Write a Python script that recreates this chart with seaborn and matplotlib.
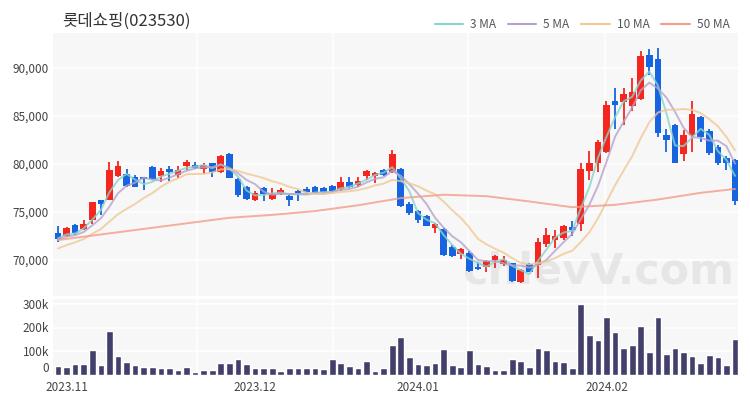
import numpy as np
import pandas as pd
import matplotlib
matplotlib.use("Agg")
import matplotlib.pyplot as plt
from matplotlib.lines import Line2D
from matplotlib.ticker import FuncFormatter
import seaborn as sns

sns.set_theme(style="white")
plt.rcParams["font.family"] = ["Noto Sans CJK KR", "DejaVu Sans"]

# ---------------- data ----------------
title = "롯데쇼핑(023530)"
month_labels = ["2023.11", "2023.12", "2024.01", "2024.02"]
month_pos = [1, 23, 42, 64]

opens = [72800, 72500, 73600, 73200, 74200, 76200, 76300, 78700, 79000, 78600,
         78600, 79700, 78800, 79500, 78900, 79800, 79900, 79500, 80100, 79200,
         81000, 78400, 77600, 76300, 77500, 76400, 76900, 76700, 77200, 77400,
         77600, 77500, 77700, 77400, 78100, 77800, 78700, 78700, 79400, 79200,
         79500, 75800, 75100, 74600, 73300, 73200, 71400, 70600, 70700, 69300,
         69300, 70000, 69600, 69700, 67700, 69600, 69500, 71700, 72100, 72300,
         73400, 73800, 79300, 80100, 81300, 86600, 86500, 86000, 86800, 91400,
         90900, 83000, 84100, 81000, 83000, 84900, 83400, 81800, 80600, 80400]
highs = [73500, 73400, 73800, 74200, 76000, 76300, 80200, 80300, 79500, 78900,
         78600, 79800, 79600, 79800, 79800, 80400, 80200, 80100, 80100, 80900,
         81100, 78500, 77700, 77200, 77600, 77500, 77500, 76900, 77300, 77600,
         77700, 77600, 77800, 78600, 78600, 78600, 79400, 79200, 79500, 81500,
         79600, 76000, 75200, 74700, 73900, 73300, 71600, 71200, 70900, 69800,
         70000, 70500, 70400, 69700, 69100, 69700, 72300, 73300, 73100, 73600,
         74100, 80100, 81400, 82500, 86600, 87900, 87900, 89000, 91800, 92000,
         92100, 83600, 84200, 83500, 86600, 85000, 83700, 82000, 80800, 80500]
lows = [71900, 72400, 72600, 73100, 73800, 74700, 76300, 78600, 77600, 77600,
        77300, 78300, 78100, 78200, 78500, 79400, 79500, 79000, 78600, 79100,
        78500, 76600, 76300, 76100, 76100, 76300, 76800, 75600, 76100, 76900,
        76900, 77000, 77000, 77200, 77500, 77600, 78300, 78000, 78800, 79100,
        75500, 74700, 73900, 73500, 72800, 70400, 70300, 70100, 68800, 69000,
        68800, 69200, 69400, 67700, 67600, 68700, 68100, 71400, 71200, 72100,
        72500, 73000, 78300, 79200, 81200, 83700, 84100, 85500, 86700, 89300,
        82800, 81300, 80100, 80300, 81300, 82300, 80900, 79900, 79400, 75700]
closes = [72200, 73300, 72800, 73800, 76000, 75800, 79400, 79800, 77700, 77600,
          78400, 78400, 79300, 79200, 79400, 80200, 79600, 79900, 79200, 80800,
          78500, 76800, 76400, 77000, 76900, 76900, 77300, 76300, 77000, 77100,
          77000, 77100, 77200, 78100, 77600, 78200, 79300, 79100, 78900, 81000,
          75600, 74900, 74200, 73500, 73800, 70500, 70400, 71100, 68900, 69100,
          69900, 70400, 70000, 67800, 69000, 68800, 71900, 72600, 72500, 73500,
          73100, 79500, 80100, 82300, 86100, 86200, 87300, 87500, 91300, 90100,
          83200, 82500, 80100, 83000, 85200, 82800, 81100, 80100, 80100, 76100]
volumes = [37, 32, 46, 45, 107, 42, 185, 79, 54, 44,
           32, 32, 31, 30, 22, 35, 11, 22, 20, 52,
           52, 66, 48, 31, 31, 30, 18, 30, 28, 28,
           28, 27, 66, 52, 37, 30, 60, 18, 28, 128,
           160, 77, 46, 44, 49, 110, 42, 35, 106, 45,
           37, 21, 21, 68, 58, 32, 114, 106, 61, 54,
           28, 297, 170, 148, 246, 179, 114, 128, 207, 96,
           244, 89, 114, 97, 79, 52, 85, 75, 44, 152]  # thousands of shares
prior_closes = [69800, 70000, 70300, 70500, 70900, 71600, 72150, 72100, 72500]
ma50_idx = [0, 5, 10, 15, 20, 25, 30, 35, 40, 45, 50, 55, 60, 65, 70, 75, 79]
ma50_val = [72080, 72660, 73240, 73820, 74400, 74700, 75100, 75700, 76450,
            76800, 76650, 76100, 75500, 75750, 76300, 77000, 77400]
watermark = "chlevV.com"

# ---------------- derived ----------------
o = np.array(opens, float); h = np.array(highs, float)
l = np.array(lows, float); c = np.array(closes, float)
idx = np.arange(len(c))
up = c >= o
RED, BLUE = "#f5261f", "#1664e0"
cols = np.where(up, RED, BLUE)

full = pd.Series(prior_closes + closes, dtype=float)
npri = len(prior_closes)
ma = {}
for n in (3, 5, 10):
    ma[f"{n} MA"] = full.rolling(n).mean().to_numpy()[npri:]

ma_df = pd.concat([
    pd.DataFrame({"idx": idx, "val": ma["3 MA"], "ma": "3 MA"}),
    pd.DataFrame({"idx": idx, "val": ma["5 MA"], "ma": "5 MA"}),
    pd.DataFrame({"idx": idx, "val": ma["10 MA"], "ma": "10 MA"}),
    pd.DataFrame({"idx": ma50_idx, "val": ma50_val, "ma": "50 MA"}),
], ignore_index=True)
ma_colors = {"3 MA": "#86d5cc", "5 MA": "#b7a2cc", "10 MA": "#f0c994", "50 MA": "#f29c8a"}

vol_df = pd.DataFrame({"idx": idx, "vol": np.array(volumes) * 1000})

# ---------------- figure ----------------
fig = plt.figure(figsize=(7.5, 4), dpi=100)
L, W = 53.3 / 750, (738 - 53.3) / 750
ax = fig.add_axes([L, 1 - 296 / 400, W, (296 - 33) / 400])
axv = fig.add_axes([L, 1 - 375 / 400, W, (375 - 299) / 400])

bg = "#f7f7f7"
for a in (ax, axv):
    a.set_facecolor(bg)
    for s in a.spines.values():
        s.set_visible(False)

xlim = (-0.55, 79.35)

# price panel
for yv in range(70000, 90001, 5000):
    ax.axhline(yv, color="white", lw=1.1, zorder=0.5)
for xv in (16.2, 32.1, 47.8, 63.8):
    ax.axvline(xv, color="white", lw=1.1, zorder=0.5)
    axv.axvline(xv, color="white", lw=1.1, zorder=0.5)

ax.text(0.795, 0.095, watermark, transform=ax.transAxes, ha="center", va="center",
        fontsize=31, color="#dcdcdc", alpha=0.6, fontweight="bold",
        family=["DejaVu Sans"], zorder=1)

ax.vlines(idx, l, h, colors=cols, lw=1.3, zorder=3)
body_h = np.maximum(np.abs(c - o), 80)
ax.bar(idx, body_h, bottom=np.minimum(o, c), width=0.78, color=cols, zorder=3, linewidth=0)

sns.lineplot(data=ma_df, x="idx", y="val", hue="ma", palette=ma_colors, ax=ax,
             legend=False, lw=1.4, alpha=0.8, zorder=4)

ax.set_xlim(*xlim)
ax.set_ylim(66250, 93650)
ax.set_yticks(range(70000, 90001, 5000))
ax.yaxis.set_major_formatter(FuncFormatter(lambda v, p: f"{int(v):,}"))
ax.set_xticks([])
ax.set_xlabel(""); ax.set_ylabel("")
ax.tick_params(axis="y", length=0, pad=3, labelsize=8.5, labelcolor="#444444")

# volume panel
for yv in (100000, 200000, 300000):
    axv.axhline(yv, color="white", lw=1.1, zorder=0.5)
sns.barplot(data=vol_df, x="idx", y="vol", native_scale=True, color="#42406a",
            saturation=1, width=0.78, errorbar=None, ax=axv, zorder=3)
axv.set_xlim(*xlim)
axv.set_ylim(0, 320000)
axv.set_yticks([0, 100000, 200000, 300000])
axv.set_yticklabels(["0", "100k", "200k", "300k"])
axv.set_xticks(month_pos)
axv.set_xticklabels(month_labels)
axv.set_xlabel(""); axv.set_ylabel("")
axv.tick_params(axis="both", length=0, labelsize=8.5, labelcolor="#444444")
axv.tick_params(axis="y", pad=3)
axv.tick_params(axis="x", pad=4)
for t in axv.get_yticklabels():
    if t.get_text() == "0":
        t.set_va("bottom")

# title and legend
fig.text(62 / 750, 1 - 21 / 400, title, fontsize=12, color="#333333", va="center", ha="left")
handles = [Line2D([], [], color=ma_colors[k], lw=1.5) for k in ma_colors]
leg = fig.legend(handles, list(ma_colors), loc="center right",
                 bbox_to_anchor=(740 / 750, 1 - 25 / 400), ncol=4, frameon=False,
                 fontsize=8.5, handlelength=2.4, columnspacing=1.0, handletextpad=0.6)
for t in leg.get_texts():
    t.set_color("#555555")

fig.savefig("out.png", dpi=100, facecolor="white")
